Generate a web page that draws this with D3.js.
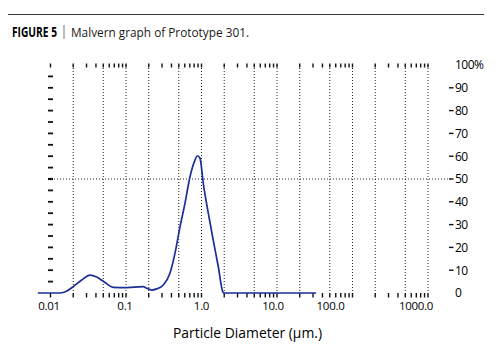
<!DOCTYPE html>
<html>
<head>
<meta charset="utf-8">
<script src="https://cdn.jsdelivr.net/npm/d3@7"></script>
<style>
  html, body { margin: 0; padding: 0; background: #fff; }
  svg { display: block; }
  text { font-family: "Open Sans", "Noto Sans", sans-serif; fill: #000; }
</style>
</head>
<body>
<svg id="chart" width="500" height="349"></svg>
<script>
// ---------- data ----------
const particleSize = [0.0068, 0.0134, 0.0165, 0.0200, 0.0259, 0.0334, 0.0409, 0.0527, 0.0679, 0.102,
  0.169, 0.188, 0.219, 0.255, 0.312, 0.383, 0.446, 0.519, 0.604, 0.704, 0.820, 0.880, 0.955,
  1.056, 1.23, 1.43, 1.67, 1.91, 1.99, 32.9];
const volumePercent = [0, 0, 0.9, 2.8, 5.7, 7.8, 7.0, 4.6, 2.5, 2.4,
  2.8, 2.1, 1.3, 1.8, 3.5, 8.8, 17.5, 29.0, 39.3, 51.0, 58.3, 60.2, 59.1,
  48.1, 35.0, 23.2, 11.5, 0.6, 0, 0];
const xTickValues = [0.01, 0.1, 1, 10, 100, 1000];
const xTickLabels = ["0.01", "0.1", "1.0", "10.0", "100.0", "1000.0"];
const gridValues = [0.02, 0.05, 0.1, 0.2, 0.5, 1, 2, 5, 10, 20, 50, 100, 200, 500, 1000];
const yTickValues = [0, 10, 20, 30, 40, 50, 60, 70, 80, 90, 100];
const yTickLabels = ["0", "10", "20", "30", "40", "50", "60", "70", "80", "90", "100%"];
const yMinorValues = [5, 10, 15, 20, 25, 30, 35, 40, 45, 50, 55, 60, 65, 70, 75, 80, 85, 90, 95];
const titleBold = "FIGURE 5";
const titleText = "Malvern graph of Prototype 301.";
const xAxisTitle = "Particle Diameter (µm.)";

// ---------- layout ----------
const svg = d3.select("#chart");
const x = d3.scaleLog().domain([0.01, 1000]).range([50.5, 428]);
const y = d3.scaleLinear().domain([0, 100]).range([293, 65]);
const labelShift = [-1.5, -1, 0, -4, -22, -12];

// header rule and title
svg.append("line").attr("x1", 8).attr("x2", 484).attr("y1", 14.5).attr("y2", 14.5)
  .attr("stroke", "#3a3a3a").attr("stroke-width", 1.2);
svg.append("text").attr("x", 12).attr("y", 36.5)
  .attr("font-family", "'Liberation Sans Narrow', 'Open Sans', sans-serif")
  .attr("font-weight", "bold").attr("font-size", 14)
  .attr("textLength", 45).attr("lengthAdjust", "spacingAndGlyphs")
  .text(titleBold);
svg.append("line").attr("x1", 64).attr("x2", 64).attr("y1", 25).attr("y2", 39)
  .attr("stroke", "#555").attr("stroke-width", 0.8);
svg.append("text").attr("x", 71).attr("y", 36.5)
  .attr("font-size", 13)
  .attr("textLength", 178).attr("lengthAdjust", "spacingAndGlyphs")
  .style("fill", "#1a1a1a")
  .text(titleText);

// minor log ticks (top and bottom)
const minorVals = [];
for (let e = -2; e <= 2; e++) for (let m = 1; m <= 9; m++) minorVals.push(m * Math.pow(10, e));
minorVals.push(1000);
const g = svg.append("g");
g.selectAll(".tt").data(minorVals).join("line")
  .attr("x1", d => x(d)).attr("x2", d => x(d)).attr("y1", 63.5).attr("y2", 67.5)
  .attr("stroke", "#111").attr("stroke-width", 1.4);
g.selectAll(".bt").data(minorVals).join("line")
  .attr("x1", d => x(d)).attr("x2", d => x(d)).attr("y1", 293).attr("y2", 297.5)
  .attr("stroke", "#111").attr("stroke-width", 1.4);

// dotted vertical grid
g.selectAll(".vg").data(gridValues).join("line")
  .attr("x1", d => x(d)).attr("x2", d => x(d)).attr("y1", y(100)).attr("y2", y(0))
  .attr("stroke", "#222").attr("stroke-width", 1).attr("stroke-dasharray", "1,2");

// dotted horizontal at 50%
g.append("line").attr("x1", 48).attr("x2", 448).attr("y1", y(50)).attr("y2", y(50))
  .attr("stroke", "#222").attr("stroke-width", 1).attr("stroke-dasharray", "1,2");

// left minor ticks
g.selectAll(".lt").data(yMinorValues).join("line")
  .attr("x1", 48).attr("x2", 53).attr("y1", d => y(d)).attr("y2", d => y(d))
  .attr("stroke", "#111").attr("stroke-width", d => d === 50 ? 2.2 : 1.8);

// right ticks and labels
g.selectAll(".rt").data(yTickValues.filter(d => d > 0 && d < 100)).join("line")
  .attr("x1", 449).attr("x2", 453.5).attr("y1", d => y(d)).attr("y2", d => y(d))
  .attr("stroke", "#111").attr("stroke-width", 1.4);
g.selectAll(".rl").data(yTickValues).join("text")
  .attr("x", 455).attr("y", d => y(d)).attr("dy", "0.36em")
  .attr("font-size", 12).attr("letter-spacing", -0.5)
  .text((d, i) => yTickLabels[i]);

// x tick labels
g.selectAll(".xl").data(xTickValues).join("text")
  .attr("x", (d, i) => x(d) + labelShift[i]).attr("y", 310)
  .attr("text-anchor", "middle").attr("font-size", 11.5).attr("letter-spacing", -0.3)
  .text((d, i) => xTickLabels[i]);

// x axis title
svg.append("text").attr("x", 247.5).attr("y", 338).attr("text-anchor", "middle")
  .attr("font-size", 14).attr("textLength", 149).attr("lengthAdjust", "spacingAndGlyphs")
  .text(xAxisTitle);

// curve
const pts = particleSize.map((s, i) => [s, volumePercent[i]]);
const line = d3.line().x(d => x(d[0])).y(d => y(d[1])).curve(d3.curveMonotoneX);
svg.append("path").datum(pts).attr("d", line)
  .attr("fill", "none").attr("stroke", "#1b2f96").attr("stroke-width", 1.7)
  .attr("stroke-linejoin", "round");
</script>
</body>
</html>
